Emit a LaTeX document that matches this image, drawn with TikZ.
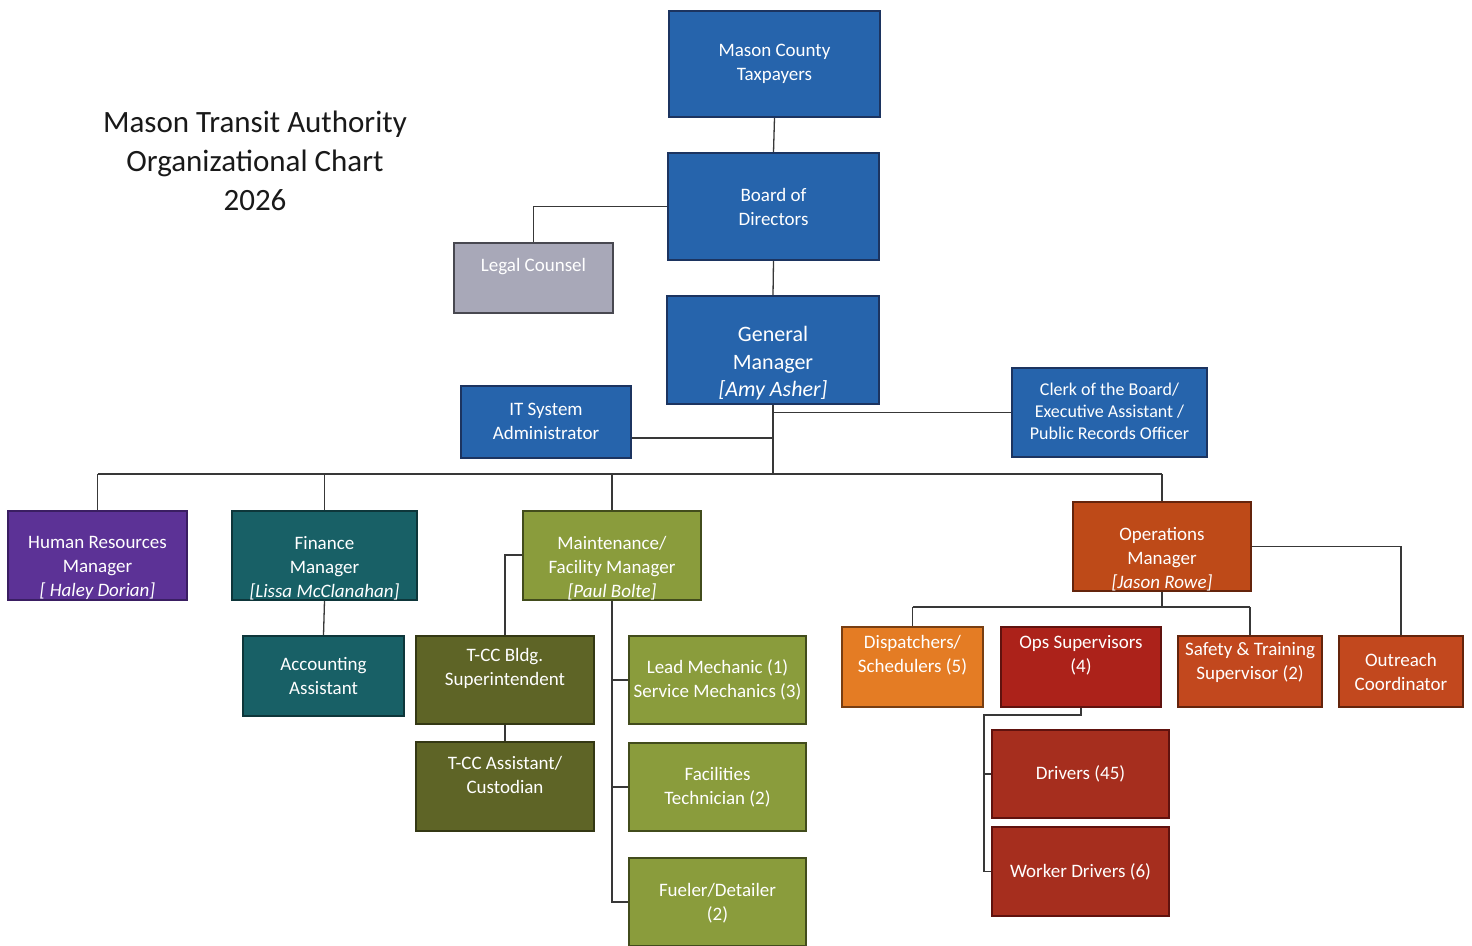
\documentclass[tikz,border=0pt]{standalone}
\usepackage{fontspec}
\setmainfont{Carlito}
\definecolor{blueF}{RGB}{38,100,172}
\definecolor{blueD}{RGB}{28,52,96}
\definecolor{grayF}{RGB}{168,168,184}
\definecolor{grayD}{RGB}{72,72,80}
\definecolor{purpF}{RGB}{92,50,150}
\definecolor{purpD}{RGB}{58,30,98}
\definecolor{tealF}{RGB}{24,96,102}
\definecolor{tealD}{RGB}{14,54,58}
\definecolor{oliveF}{RGB}{138,156,60}
\definecolor{oliveD}{RGB}{66,76,28}
\definecolor{doliveF}{RGB}{94,100,38}
\definecolor{doliveD}{RGB}{52,56,20}
\definecolor{opsF}{RGB}{190,74,24}
\definecolor{opsD}{RGB}{100,36,12}
\definecolor{dispF}{RGB}{228,124,36}
\definecolor{dispD}{RGB}{120,62,18}
\definecolor{redF}{RGB}{172,34,26}
\definecolor{redD}{RGB}{96,18,14}
\definecolor{safeF}{RGB}{194,72,30}
\definecolor{drvF}{RGB}{166,46,30}
\begin{document}
\begin{tikzpicture}[x=1pt,y=-1pt,
  box/.style={rectangle, draw, line width=1.8pt, inner sep=0pt},
  lbl/.style={text=white, align=center, inner sep=0pt, font=\fontsize{19}{24}\selectfont},
  ln/.style={draw=black!78, line width=1.3pt},
]
\useasboundingbox[fill=white] (0,0) rectangle (1472,945);

% title
\node[align=center, font=\fontsize{31}{39}\selectfont, text=black!90] (title) at (255,161)
  {Mason Transit Authority\\Organizational Chart\\2026};

% boxes
\node[box, fill=blueF, draw=blueD, minimum width=211pt, minimum height=106pt] (tax) at (774.5,64) {};
\node[box, fill=blueF, draw=blueD, minimum width=211pt, minimum height=107pt] (board) at (773.5,206.5) {};
\node[box, fill=grayF, draw=grayD, minimum width=159pt, minimum height=70pt] (legal) at (533.5,278) {};
\node[box, fill=blueF, draw=blueD, minimum width=212pt, minimum height=108pt] (gm) at (773,350) {};
\node[box, fill=blueF, draw=blueD, minimum width=170pt, minimum height=72pt] (it) at (546,422) {};
\node[box, fill=blueF, draw=blueD, minimum width=195pt, minimum height=89pt] (clerk) at (1109.5,412.5) {};
\node[box, fill=purpF, draw=purpD, minimum width=179pt, minimum height=89pt] (hr) at (97.5,555.5) {};
\node[box, fill=tealF, draw=tealD, minimum width=185pt, minimum height=89pt] (fin) at (324.5,555.5) {};
\node[box, fill=tealF, draw=tealD, minimum width=161pt, minimum height=80pt] (acct) at (323.5,676) {};
\node[box, fill=oliveF, draw=oliveD, minimum width=178pt, minimum height=89pt] (maint) at (612,555.5) {};
\node[box, fill=doliveF, draw=doliveD, minimum width=178pt, minimum height=88pt] (tccb) at (505,680) {};
\node[box, fill=doliveF, draw=doliveD, minimum width=178pt, minimum height=89pt] (tcca) at (505,786.5) {};
\node[box, fill=oliveF, draw=oliveD, minimum width=177pt, minimum height=88pt] (lead) at (717.5,680) {};
\node[box, fill=oliveF, draw=oliveD, minimum width=177pt, minimum height=88pt] (fac) at (717.5,787) {};
\node[box, fill=oliveF, draw=oliveD, minimum width=177pt, minimum height=88pt] (fuel) at (717.5,902) {};
\node[box, fill=opsF, draw=opsD, minimum width=178pt, minimum height=89pt] (ops) at (1162,546.5) {};
\node[box, fill=dispF, draw=dispD, minimum width=141pt, minimum height=80pt] (disp) at (912.5,667) {};
\node[box, fill=redF, draw=redD, minimum width=160pt, minimum height=80pt] (opss) at (1081,667) {};
\node[box, fill=safeF, draw=opsD, minimum width=144pt, minimum height=71pt] (safe) at (1250,671.5) {};
\node[box, fill=safeF, draw=opsD, minimum width=124pt, minimum height=71pt] (out) at (1401,671.5) {};
\node[box, fill=drvF, draw=redD, minimum width=177pt, minimum height=88pt] (drv) at (1080.5,774) {};
\node[box, fill=drvF, draw=redD, minimum width=177pt, minimum height=89pt] (wd) at (1080.5,871.5) {};

% labels
\node[lbl] (taxT) at (774.5,64) {Mason County\\Taxpayers};
\node[lbl] (boardT) at (773.5,207) {Board of\\Directors};
\node[lbl] (legalT) at (533.5,267) {Legal Counsel};
\node[lbl, font=\fontsize{22}{27.5}\selectfont] (gmT) at (773,363.5) {General\\Manager\\\textit{[Amy Asher]}};
\node[lbl] (itT) at (546,421.5) {IT System\\Administrator};
\node[lbl, font=\fontsize{18}{22}\selectfont] (clerkT) at (1109.5,411) {Clerk of the Board/\\Executive Assistant /\\Public Records Officer};
\node[lbl] (hrT) at (97.5,568) {Human Resources\\Manager\\\textit{[ Haley Dorian]}};
\node[lbl] (finT) at (324.5,568) {Finance\\Manager\\\textit{[Lissa McClanahan]}};
\node[lbl] (acctT) at (323.5,676) {Accounting\\Assistant};
\node[lbl] (maintT) at (612,568) {Maintenance/\\Facility Manager\\\textit{[Paul Bolte]}};
\node[lbl] (tccbT) at (505,668.5) {T-CC Bldg.\\Superintendent};
\node[lbl] (tccaT) at (505,775) {T-CC Assistant/\\Custodian};
\node[lbl] (leadT) at (717.5,680) {Lead Mechanic (1)\\Service Mechanics (3)};
\node[lbl] (facT) at (717.5,787) {Facilities\\Technician (2)};
\node[lbl] (fuelT) at (717.5,903) {Fueler/Detailer\\(2)};
\node[lbl] (opsT) at (1162,559) {Operations\\Manager\\\textit{[Jason Rowe]}};
\node[lbl] (dispT) at (912.5,655) {Dispatchers/\\Schedulers (5)};
\node[lbl] (opssT) at (1081,655) {Ops Supervisors\\(4)};
\node[lbl] (safeT) at (1250,662) {Safety \& Training\\Supervisor (2)};
\node[lbl] (outT) at (1401,672) {Outreach\\Coordinator};
\node[lbl] (drvT) at (1080.5,774) {Drivers (45)};
\node[lbl] (wdT) at (1080.5,872) {Worker Drivers (6)};

% coordinates
\coordinate (bus) at (0,474);
\coordinate (obus) at (0,607);
\coordinate (dtr) at (984,715);

% connectors
\draw[ln] (tax.south) -- (board.north);
\draw[ln] (board.west) -| (legal.north);
\draw[ln] (board.south) -- (gm.north);
\draw[ln] (gm.south) -- (gm.south |- bus);
\draw[ln] (it.east |- 0,438) -- (gm.south |- 0,438);
\draw[ln] (clerk.west) -- (gm.south |- clerk.west);
\draw[ln] (hr.north |- bus) -- (ops.north |- bus);
\draw[ln] (hr.north |- bus) -- (hr.north);
\draw[ln] (fin.north |- bus) -- (fin.north);
\draw[ln] (maint.north |- bus) -- (maint.north);
\draw[ln] (ops.north |- bus) -- (ops.north);
\draw[ln] (fin.south) -- (acct.north);
\draw[ln] (maint.west |- 0,555) -| (tccb.north);
\draw[ln] (tccb.south) -- (tcca.north);
\draw[ln] (maint.south) |- (fuel.west);
\draw[ln] (maint.south |- lead.west) -- (lead.west);
\draw[ln] (maint.south |- fac.west) -- (fac.west);
\draw[ln] (ops.south) -- (ops.south |- obus);
\draw[ln] (disp.north |- obus) -- (safe.north |- obus);
\draw[ln] (disp.north |- obus) -- (disp.north);
\draw[ln] (safe.north |- obus) -- (safe.north);
\draw[ln] (ops.east) -| (out.north);
\draw[ln] (opss.south) |- (dtr) |- (wd.west);
\draw[ln] (dtr |- drv.west) -- (drv.west);
\end{tikzpicture}
\end{document}
